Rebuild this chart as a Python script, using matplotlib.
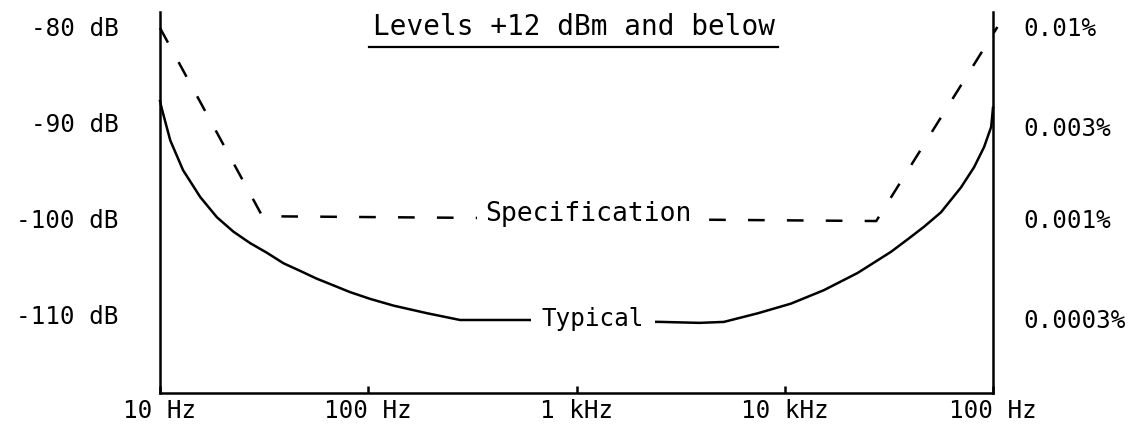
#!/usr/bin/env python3
"""Distortion vs frequency chart: specification and typical curves."""
import math
import matplotlib
matplotlib.use('Agg')
import matplotlib.pyplot as plt
from matplotlib.lines import Line2D
from matplotlib.ticker import NullLocator

# values (frequency in Hz, level in dB)
spec_freq = [10, 31, 27500, 105000]
spec_db = [-80.2, -99.8, -100.3, -80.1]

typ_freq = [10, 10.2, 11.2, 12.9, 15.6, 18.75, 22.5, 27.1, 32.6, 39.2, 47.2,
            56.6, 68.1, 81.8, 102, 132, 192, 276, 580, 2540, 3900, 5100,
            7430, 10700, 15400, 22400, 32400, 39500, 46600, 56200, 70200,
            81100, 90600, 98000, 100000]
typ_db = [-87.8, -88.6, -91.9, -95.0, -97.8, -99.9, -101.4, -102.6, -103.6,
          -104.7, -105.5, -106.3, -107.0, -107.7, -108.4, -109.1, -109.9,
          -110.6, -110.6, -110.8, -110.9, -110.8, -109.9, -108.9, -107.5,
          -105.7, -103.5, -102.1, -100.9, -99.4, -96.8, -94.7, -92.6,
          -90.5, -88.5]

x_ticks = [10, 100, 1000, 10000, 100000]
x_labels = ['10 Hz', '100 Hz', '1 kHz', '10 kHz', '100 Hz']
db_ticks = [-80, -90, -100, -110]
db_labels = ['-80 dB', '-90 dB', '-100 dB', '-110 dB']
pct_values = [0.01, 0.003, 0.001, 0.0003]
pct_labels = ['0.01%', '0.003%', '0.001%', '0.0003%']

plt.rcParams['font.family'] = 'DejaVu Sans Mono'
plt.rcParams['lines.scale_dashes'] = False

fig = plt.figure(figsize=(11.36, 4.30), dpi=100)
ax = fig.add_axes([160 / 1136, 1 - 393 / 430, 833 / 1136, 381 / 430])
ax.set_xscale('log')
ax.set_xlim(10, 1e5)
ax.set_ylim(-118.2, -78.54)

lw = 1.8
for side in ('left', 'right', 'bottom'):
    ax.spines[side].set_linewidth(lw)
ax.spines['top'].set_visible(False)

ax.plot(spec_freq, spec_db, color='black', lw=lw,
        linestyle=(0, (12, 16)), clip_on=False)
ax.plot(typ_freq, typ_db, color='black', lw=lw, clip_on=False)

ax.set_xticks(x_ticks)
ax.set_xticklabels(x_labels, fontsize=17.5)
ax.xaxis.set_minor_locator(NullLocator())
ax.tick_params(axis='x', direction='in', length=5, width=1.8, pad=4)

ax.set_yticks(db_ticks)
ax.set_yticklabels(db_labels, fontsize=17.5)
ax.tick_params(axis='y', length=0, pad=30)

# right-hand scale in percent, same dB positions
ax2 = ax.twinx()
ax2.set_ylim(ax.get_ylim())
ax2.set_yticks([20 * math.log10(p / 100) for p in pct_values])
ax2.set_yticklabels(pct_labels, fontsize=17.5)
ax2.tick_params(axis='y', length=0, pad=22)
for s in ax2.spines.values():
    s.set_visible(False)

ax.text(1143, -99.6, 'Specification', fontsize=19, ha='center', va='center',
        bbox=dict(boxstyle='square,pad=0.3', fc='white', ec='none'), zorder=5)
ax.text(1200, -110.5, 'Typical', fontsize=17.5, ha='center', va='center',
        bbox=dict(boxstyle='square,pad=0.45', fc='white', ec='none'), zorder=5)

title = ax.text(977, -80.05, 'Levels +12 dBm and below', fontsize=20,
                ha='center', va='center')

# underline under the heading
fig.canvas.draw()
bb = title.get_window_extent()
W = fig.bbox.width
uy = (430 - 47) / 430
fig.add_artist(Line2D([(bb.x0 - 4) / W, (bb.x1 + 3) / W], [uy, uy],
                      color='black', lw=1.6, transform=fig.transFigure))

fig.savefig('out.png', dpi=100, facecolor='white')
